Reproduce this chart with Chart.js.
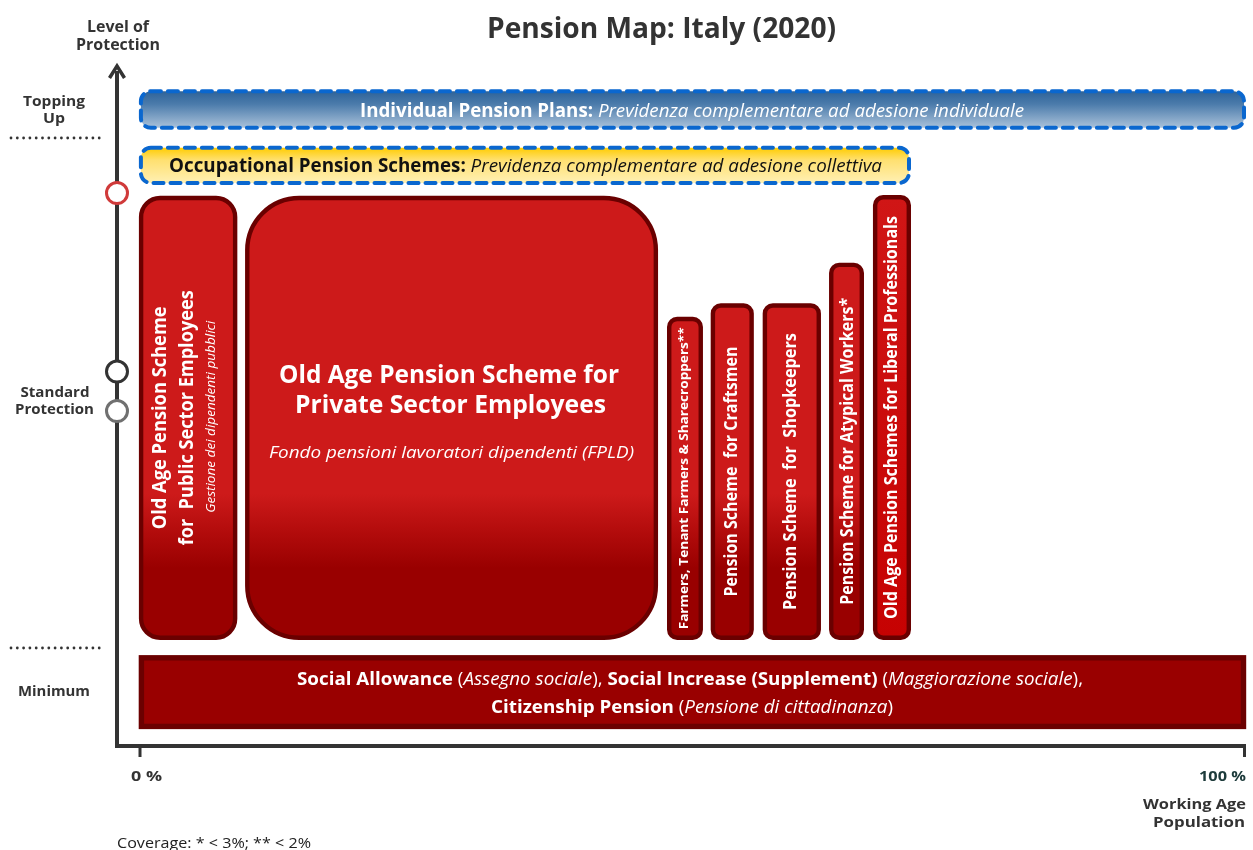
<!DOCTYPE html>
<html>
<head>
<meta charset="utf-8">
<title>Pension Map: Italy (2020)</title>
<script src="https://cdn.jsdelivr.net/npm/chart.js@4"></script>
<style>
  html, body { margin: 0; padding: 0; background: #fff; }
  canvas { display: block; }
</style>
</head>
<body>
<canvas id="pensionMap" width="1253" height="850"></canvas>
<script>
// x = share of working age population (%), y = level of protection (0 = bottom of the axis)
const xMin = -2.08;

// first pillar schemes (the red columns)
const schemes = ['Public Sector', 'Private Sector', 'Farmers', 'Craftsmen', 'Shopkeepers', 'Atypical Workers', 'Liberal Professionals'];
const schemeFrom = [-0.1, 9.5, 47.65, 51.6, 56.3, 62.3, 66.27];
const schemeTo = [8.8, 46.84, 50.9, 55.5, 61.57, 65.46, 69.71];
const schemeLow = [15.4, 15.4, 15.4, 15.4, 15.4, 15.4, 15.4];
const schemeHigh = [81.1, 81.1, 63.2, 65.2, 65.2, 71.2, 81.2];

// topping up tiers
const tiers = ['Individual Pension Plans', 'Occupational Pension Schemes'];
const tierFrom = [-0.1, -0.1];
const tierTo = [100, 69.71];
const tierLow = [90.85, 82.7];
const tierHigh = [96.85, 88.5];

// minimum (social assistance)
const minFrom = -0.1;
const minTo = 100;
const minLow = 2.2;
const minHigh = 13.15;

// markers on the level axis
const markerLevels = [81.5, 55.1, 49.25];
const markerColors = ['#d03a3a', '#333333', '#707070'];

const FONT = '"Open Sans", "Noto Sans", sans-serif';

// draw a line of mixed bold / italic runs, squeezed to a target width
function drawRuns(ctx, runs, cx, cy, size, width, color, angle) {
    const fonts = runs.map(r => {
        const st = r[1];
        const italic = st.includes('i') ? 'italic ' : '';
        const weight = st.includes('b') ? '700 ' : '400 ';
        return italic + weight + size + 'px ' + FONT;
    });
    let total = 0;
    const widths = runs.map((r, i) => {
        ctx.font = fonts[i];
        const w = ctx.measureText(r[0]).width;
        total += w;
        return w;
    });
    const sx = width ? width / total : 1;
    ctx.save();
    ctx.translate(cx, cy);
    if (angle) ctx.rotate(angle);
    ctx.scale(sx, 1);
    ctx.fillStyle = color;
    ctx.textBaseline = 'middle';
    ctx.textAlign = 'left';
    let x = -total / 2;
    const dy = size * 0.09;
    runs.forEach((r, i) => {
        ctx.font = fonts[i];
        ctx.fillText(r[0], x, dy);
        x += widths[i];
    });
    ctx.restore();
}

function dotted(ctx, y, x1, x2) {
    ctx.save();
    ctx.fillStyle = '#333';
    for (let x = x1; x <= x2; x += 6.3) {
        ctx.beginPath();
        ctx.arc(x, y, 1.4, 0, Math.PI * 2);
        ctx.fill();
    }
    ctx.restore();
}

const mapPlugin = {
    id: 'pensionMap',
    beforeDatasetsDraw(chart) {
        const ctx = chart.ctx;
        const xs = chart.scales.x, ys = chart.scales.y;
        const area = chart.chartArea;
        const px = v => xs.getPixelForValue(v);
        const py = v => ys.getPixelForValue(v);

        // axes
        ctx.save();
        ctx.strokeStyle = '#333';
        ctx.lineWidth = 4;
        ctx.lineCap = 'butt';
        ctx.beginPath();
        ctx.moveTo(area.left, area.top + 3);
        ctx.lineTo(area.left, area.bottom + 2);
        ctx.lineTo(area.right, area.bottom + 2);
        ctx.stroke();
        ctx.lineWidth = 3.5;
        ctx.lineJoin = 'miter';
        ctx.beginPath();
        ctx.moveTo(area.left - 7.5, area.top + 10);
        ctx.lineTo(area.left, area.top - 2);
        ctx.lineTo(area.left + 7.5, area.top + 10);
        ctx.stroke();
        ctx.lineWidth = 3;
        [0, 100].forEach(v => {
            ctx.beginPath();
            ctx.moveTo(px(v) + (v === 100 ? -1.5 : 0), area.bottom);
            ctx.lineTo(px(v) + (v === 100 ? -1.5 : 0), area.bottom + 13);
            ctx.stroke();
        });
        ctx.restore();

        // topping up tiers (dashed, gradient)
        const tierFill = [['#2e6399', '#4b7bab', '#aac2da'], ['#ffcc00', '#ffe070', '#fff0b4']];
        tiers.forEach((t, i) => {
            const l = px(tierFrom[i]) + 2, r = px(tierTo[i]) - 2;
            const top = py(tierHigh[i]) + 2, bot = py(tierLow[i]) - 2;
            const g = ctx.createLinearGradient(0, top, 0, bot);
            g.addColorStop(0, tierFill[i][0]);
            g.addColorStop(0.35, tierFill[i][1]);
            g.addColorStop(1, tierFill[i][2]);
            ctx.save();
            ctx.beginPath();
            ctx.roundRect(l, top, r - l, bot - top, 10);
            ctx.fillStyle = g;
            ctx.fill();
            ctx.setLineDash([10, 7]);
            ctx.lineCap = 'round';
            ctx.lineWidth = 4;
            ctx.strokeStyle = '#0a67cf';
            ctx.stroke();
            ctx.restore();
        });

        // first pillar columns
        const radii = [19, 52, 8, 8, 8, 8, 8];
        schemes.forEach((s, i) => {
            const l = px(schemeFrom[i]) + 2.2, r = px(schemeTo[i]) - 2.2;
            const top = py(schemeHigh[i]) + 2.2, bot = py(schemeLow[i]) - 2.2;
            let g;
            if (i === 6) {
                g = ctx.createLinearGradient(0, top, 0, bot);
                g.addColorStop(0, '#d01616');
                g.addColorStop(1, '#c60202');
            } else {
                g = ctx.createLinearGradient(0, py(37), 0, py(26));
                g.addColorStop(0, '#cd1a1a');
                g.addColorStop(0.5, '#b30c0c');
                g.addColorStop(1, '#990000');
            }
            ctx.save();
            ctx.beginPath();
            ctx.roundRect(l, top, r - l, bot - top, radii[i]);
            ctx.fillStyle = g;
            ctx.fill();
            ctx.lineWidth = 4.4;
            ctx.strokeStyle = '#6a0000';
            ctx.stroke();
            ctx.restore();
        });

        // minimum band
        {
            const l = px(minFrom) + 2.5, r = px(minTo) - 2.5;
            const top = py(minHigh) + 2.7, bot = py(minLow) - 2.7;
            ctx.save();
            ctx.fillStyle = '#990000';
            ctx.fillRect(l, top, r - l, bot - top);
            ctx.lineWidth = 5.4;
            ctx.strokeStyle = '#6b0000';
            ctx.strokeRect(l, top, r - l, bot - top);
            ctx.restore();
        }

        // texts in the boxes
        const cyOf = i => (py(schemeLow[i]) + py(schemeHigh[i])) / 2;
        const up = -Math.PI / 2;
        const tierCy = i => (py(tierLow[i]) + py(tierHigh[i])) / 2;

        drawRuns(ctx, [['Individual Pension Plans:', 'b'], [' Previdenza complementare ad adesione individuale', 'i']],
            692, tierCy(0), 19, 664, '#ffffff');
        drawRuns(ctx, [['Occupational Pension Schemes:', 'b'], [' Previdenza complementare ad adesione collettiva', 'i']],
            525.5, tierCy(1), 19, 713, '#111111');

        // public sector
        drawRuns(ctx, [['Old Age Pension Scheme', 'b']], 158.5, cyOf(0), 19, 223, '#fff', up);
        drawRuns(ctx, [['for  Public Sector Employees', 'b']], 185.5, cyOf(0), 19, 255, '#fff', up);
        drawRuns(ctx, [['Gestione dei dipendenti pubblici', 'i']], 210.5, cyOf(0) - 1, 13, 192, '#fff', up);

        // private sector
        drawRuns(ctx, [['Old Age Pension Scheme for', 'b']], 449, 374, 25, 340, '#fff');
        drawRuns(ctx, [['Private Sector Employees', 'b']], 450.5, 404, 25, 311, '#fff');
        drawRuns(ctx, [['Fondo pensioni lavoratori dipendenti (FPLD)', 'i']], 451.5, 452, 17, 365, '#fff');

        // small schemes
        drawRuns(ctx, [['Farmers, Tenant Farmers & Sharecroppers**', 'b']], 683.5, cyOf(2), 13, 302, '#fff', up);
        drawRuns(ctx, [['Pension Scheme  for Craftsmen', 'b']], 731, cyOf(3), 17, 250, '#fff', up);
        drawRuns(ctx, [['Pension Scheme  for  Shopkeepers', 'b']], 790, cyOf(4), 17, 277, '#fff', up);
        drawRuns(ctx, [['Pension Scheme for Atypical Workers*', 'b']], 847, cyOf(5), 17, 307, '#fff', up);
        drawRuns(ctx, [['Old Age Pension Schemes for Liberal Professionals', 'b']], 891, cyOf(6), 17, 403, '#fff', up);

        // minimum band text
        drawRuns(ctx, [['Social Allowance', 'b'], [' (', 'r'], ['Assegno sociale', 'i'], ['), ', 'r'],
            ['Social Increase (Supplement)', 'b'], [' (', 'r'], ['Maggiorazione sociale', 'i'], ['),', 'r']],
            690, 678, 18.5, 786, '#fff');
        drawRuns(ctx, [['Citizenship Pension', 'b'], [' (', 'r'], ['Pensione di cittadinanza', 'i'], [')', 'r']],
            692, 706, 18.5, 402, '#fff');

        // level labels and separators
        const dark = '#333333';
        drawRuns(ctx, [['Level of', 'b']], 118, 26, 15.5, 62, dark);
        drawRuns(ctx, [['Protection', 'b']], 118, 44, 15.5, 84, dark);
        drawRuns(ctx, [['Topping', 'b']], 54, 100, 15, 62, dark);
        drawRuns(ctx, [['Up', 'b']], 54, 117, 15, 22, dark);
        drawRuns(ctx, [['Standard', 'b']], 55, 391, 15, 69, dark);
        drawRuns(ctx, [['Protection', 'b']], 54.5, 408, 15, 79, dark);
        drawRuns(ctx, [['Minimum', 'b']], 54, 691, 14.5, 72, dark);
        dotted(ctx, 138, 11, 102);
        dotted(ctx, 648, 11, 102);

        // x axis labels
        drawRuns(ctx, [['0 %', 'b']], 146.5, 775, 15, 31, dark);
        drawRuns(ctx, [['100 %', 'b']], 1222.5, 775, 15, 47, '#1d3b3b');
        drawRuns(ctx, [['Working Age', 'b']], 1194.5, 803, 15, 103, dark);
        drawRuns(ctx, [['Population', 'b']], 1199, 821, 15, 92, dark);
        drawRuns(ctx, [['Coverage: * < 3%; ** < 2%', 'r']], 214, 842, 15, 194, '#222');

        // title
        drawRuns(ctx, [['Pension Map: Italy (2020)', 'b']], 661.5, 28, 28, 349, dark);
    }
};

const ctx = document.getElementById('pensionMap').getContext('2d');
new Chart(ctx, {
    type: 'scatter',
    data: {
        datasets: [{
            label: 'Levels',
            data: markerLevels.map(v => ({ x: xMin, y: v })),
            pointRadius: 10.5,
            pointBorderWidth: 3,
            pointBackgroundColor: '#ffffff',
            pointBorderColor: markerColors,
            clip: false
        }]
    },
    options: {
        responsive: false,
        animation: false,
        devicePixelRatio: 1,
        layout: { autoPadding: false, padding: { left: 117, right: 7, top: 68, bottom: 106 } },
        scales: {
            x: { type: 'linear', min: xMin, max: 100, display: false },
            y: { type: 'linear', min: 0, max: 100, display: false }
        },
        plugins: {
            legend: { display: false },
            tooltip: { enabled: false }
        }
    },
    plugins: [mapPlugin]
});
</script>
</body>
</html>
